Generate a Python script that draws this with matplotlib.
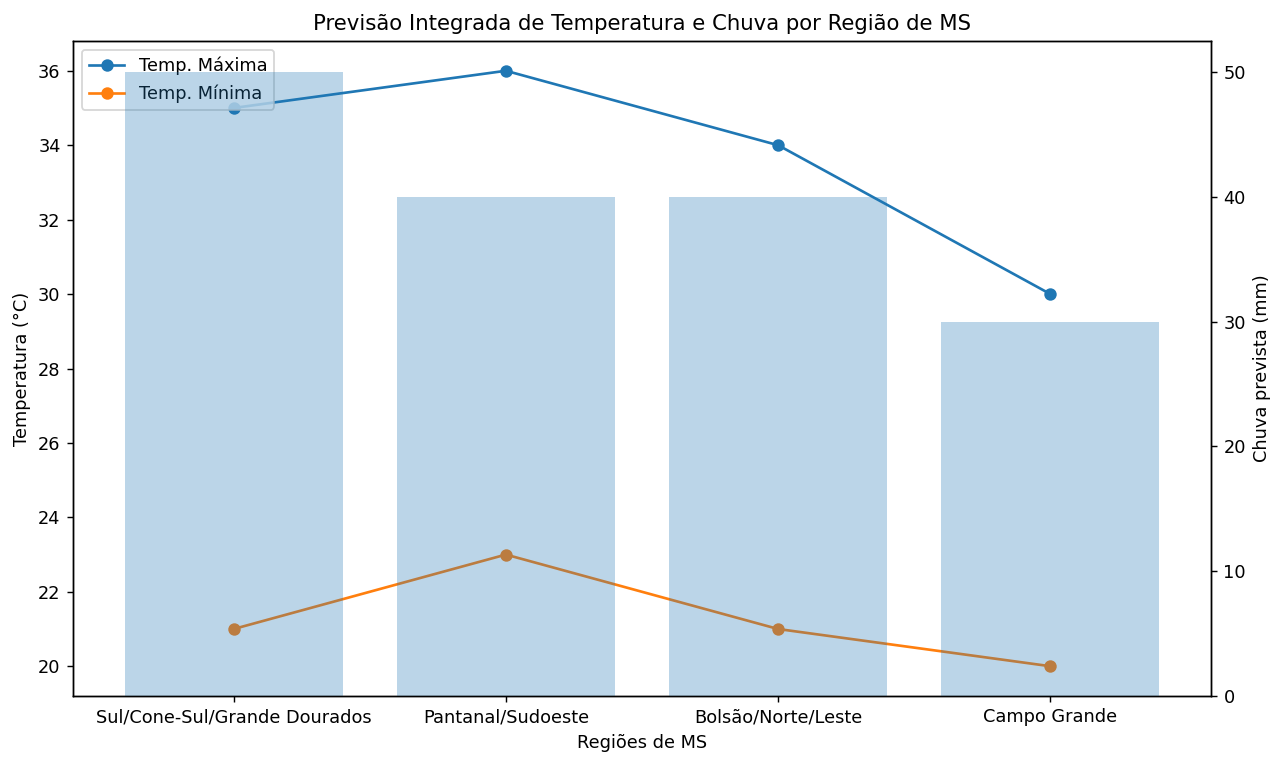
import matplotlib
matplotlib.use("Agg")
import matplotlib.pyplot as plt

regioes = ["Sul/Cone-Sul/Grande Dourados", "Pantanal/Sudoeste", "Bolsão/Norte/Leste", "Campo Grande"]
temp_max = [35, 36, 34, 30]
temp_min = [21, 23, 21, 20]
chuva = [50, 40, 40, 30]

W, H = 1278, 762
fig, ax1 = plt.subplots(figsize=(10, H / 127.8), dpi=127.8)
ax1.plot(regioes, temp_max, marker="o", label="Temp. Máxima")
ax1.plot(regioes, temp_min, marker="o", label="Temp. Mínima")
ax1.set_xlabel("Regiões de MS")
ax1.set_ylabel("Temperatura (°C)")
ax1.legend(loc="upper left")

ax2 = ax1.twinx()
ax2.bar(regioes, chuva, alpha=0.3, label="Chuva (mm)")
ax2.set_ylabel("Chuva prevista (mm)")

ax1.set_title("Previsão Integrada de Temperatura e Chuva por Região de MS")
fig.subplots_adjust(left=73 / W, right=1211 / W, top=1 - 41 / H, bottom=1 - 696 / H)
fig.savefig("out.png")
